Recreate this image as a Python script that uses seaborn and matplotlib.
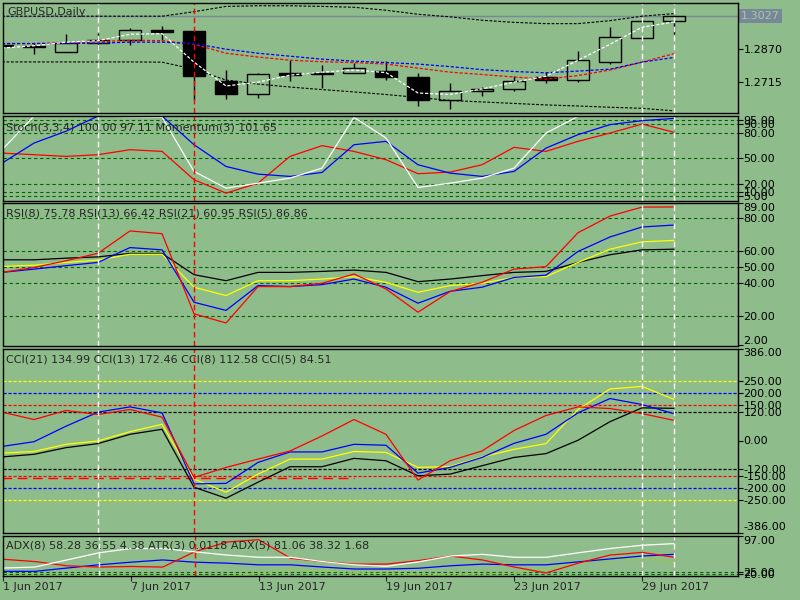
import numpy as np
import pandas as pd
import matplotlib
matplotlib.use("Agg")
import matplotlib.pyplot as plt
import seaborn as sns

# ---- data ----
dates = pd.to_datetime([
    "2017-06-01", "2017-06-02", "2017-06-05", "2017-06-06", "2017-06-07",
    "2017-06-08", "2017-06-09", "2017-06-12", "2017-06-13", "2017-06-14",
    "2017-06-15", "2017-06-16", "2017-06-19", "2017-06-20", "2017-06-21",
    "2017-06-22", "2017-06-23", "2017-06-26", "2017-06-27", "2017-06-28",
    "2017-06-29", "2017-06-30"])

open_ = [1.2892, 1.2879, 1.2858, 1.2900, 1.2913, 1.2959, 1.2955, 1.2721, 1.2662, 1.2760, 1.2759,
         1.2757, 1.2768, 1.2738, 1.2632, 1.2673, 1.2682, 1.2738, 1.2724, 1.2811, 1.2924, 1.3005]
high = [1.2899, 1.2900, 1.2943, 1.2949, 1.2971, 1.2979, 1.2960, 1.2773, 1.2760, 1.2819, 1.2796,
        1.2804, 1.2815, 1.2760, 1.2710, 1.2692, 1.2744, 1.2765, 1.2863, 1.2975, 1.3012, 1.3027]
low = [1.2876, 1.2846, 1.2858, 1.2870, 1.2890, 1.2908, 1.2632, 1.2638, 1.2640, 1.2722, 1.2690,
       1.2757, 1.2726, 1.2604, 1.2591, 1.2652, 1.2674, 1.2710, 1.2718, 1.2801, 1.2924, 1.2943]
close = [1.2884, 1.2888, 1.2902, 1.2913, 1.2960, 1.2952, 1.2746, 1.2662, 1.2754, 1.2751, 1.2752,
         1.2781, 1.2738, 1.2632, 1.2674, 1.2682, 1.2721, 1.2724, 1.2818, 1.2926, 1.3005, 1.3027]
last_price = 1.3027

ma_fast = [1.2876, 1.2887, 1.2904, 1.2911, 1.2941, 1.2944, 1.2810, 1.2698, 1.2716, 1.2749, 1.2763,
           1.2773, 1.2761, 1.2665, 1.2658, 1.2684, 1.2716, 1.2744, 1.2819, 1.2894, 1.2974, 1.2999]
ma_red = [1.2898, 1.2898, 1.2901, 1.2906, 1.2913, 1.2911, 1.2894, 1.2852, 1.2834, 1.2819, 1.2812,
          1.2808, 1.2801, 1.2782, 1.2763, 1.2752, 1.2740, 1.2730, 1.2747, 1.2773, 1.2810, 1.2850]
ma_blue = [1.2897, 1.2897, 1.2898, 1.2899, 1.2904, 1.2904, 1.2897, 1.2871, 1.2852, 1.2838, 1.2824,
           1.2815, 1.2808, 1.2801, 1.2789, 1.2775, 1.2766, 1.2760, 1.2768, 1.2777, 1.2810, 1.2832]
band_up = [1.3026, 1.3026, 1.3026, 1.3026, 1.3026, 1.3026, 1.3047, 1.3072, 1.3075, 1.3075, 1.3072,
           1.3068, 1.3054, 1.3035, 1.3023, 1.3007, 1.2997, 1.2991, 1.2991, 1.3005, 1.3026, 1.3038]
band_dn = [1.2811, 1.2811, 1.2811, 1.2811, 1.2811, 1.2810, 1.2777, 1.2726, 1.2707, 1.2693, 1.2681,
           1.2670, 1.2658, 1.2644, 1.2630, 1.2623, 1.2616, 1.2609, 1.2604, 1.2598, 1.2593, 1.2581]

stoch_main = [60, 100, 100, 100, 99, 98.5, 34.4, 14.6, 20.5, 26.5, 38.3,
              98.5, 73.9, 15.4, 20.5, 26.5, 38.3, 79.8, 99.6, 100, 100, 100]
stoch_signal = [44.2, 68, 82, 100, 100, 100, 66, 40.3, 31.2, 28.5, 33.2,
                66, 70, 42.3, 32.4, 28.5, 34.4, 62, 77.9, 89.8, 94.5, 97.1]
momentum = [56.1, 54.2, 52.2, 54.2, 60.1, 58.1, 24.6, 8.7, 20.5, 52.2, 64.9,
            58.1, 48.3, 31.7, 33.6, 42.3, 62.9, 58.1, 70, 79.8, 90.5, 80.7]
stoch_levels = [95, 90, 80, 50, 20, 10, 5]

rsi5 = [46.8, 49.8, 53.9, 58.5, 72.2, 70.5, 21.4, 15.8, 38.1, 38.1, 40.1,
        45.8, 36.6, 22.4, 35.0, 40.7, 48.8, 50.3, 71.1, 81.3, 86.8, 86.9]
rsi8 = [46.8, 48.8, 50.9, 52.9, 62.0, 60.6, 28.5, 23.5, 38.7, 38.1, 39.3,
        42.7, 37.7, 27.9, 35.2, 37.7, 43.7, 45.1, 59.6, 68.5, 74.6, 75.8]
rsi13 = [50.4, 51.2, 52.9, 54.3, 57.9, 57.9, 37.7, 32.6, 41.7, 41.7, 42.7,
         44.2, 40.7, 34.6, 38.7, 40.1, 43.7, 44.2, 52.9, 61.0, 65.5, 66.4]
rsi21 = [54.5, 54.5, 55.5, 56.3, 58.4, 58.4, 45.4, 41.7, 46.8, 46.8, 47.4,
         48.2, 46.8, 41.1, 42.7, 44.8, 46.8, 47.4, 52.9, 57.6, 60.6, 61.0]
rsi_levels = [80, 60, 50, 40, 20]

cci5 = [119, 88, 126, 109, 130, 98, -155, -113, -78, -44, 19,
        88, 26, -166, -85, -44, 42, 105, 141, 134, 113, 84.5]
cci8 = [-25, -5, 60, 119, 141, 116, -182, -180, -92, -48, -48,
        -16, -20, -137, -113, -71, -12, 26, 116, 176, 151, 112.6]
cci13 = [-53, -46, -16, -2, 37, 68, -162, -217, -141, -78, -78,
         -46, -50, -113, -109, -69, -37, -13, 130, 216, 227, 172.5]
cci21 = [-69, -58, -30, -13, 26, 47, -196, -242, -175, -110, -110,
         -75, -85, -148, -141, -106, -71, -55, 1, 79, 137, 135]
cci_levels = {250: "#FFFF00", 200: "#0000FF", 150: "#FF0000", 120: "black"}
cci_trend_level = -158
cci_trend_end = "2017-06-16"

adx_white = [32.7, 34.7, 48.7, 62.8, 71.3, 71.3, 64.8, 58.4, 54.0, 54.0, 45.5,
             39.1, 36.2, 44.9, 56.5, 59.8, 54.0, 54.0, 62.8, 71.3, 77.7, 81.0]
adx_red = [50.1, 45.5, 37.2, 34.7, 35.8, 34.7, 64.8, 84.1, 88.7, 52.0, 45.5,
           40.5, 40.5, 47.4, 56.5, 48.7, 34.7, 23.1, 42.4, 58.4, 63.6, 54.0]
adx_blue = [26.2, 26.2, 32.7, 39.1, 44.3, 48.7, 44.3, 42.4, 39.1, 39.1, 34.7,
            30.8, 30.8, 32.3, 37.2, 40.5, 39.1, 39.1, 44.9, 50.7, 56.5, 59.8]
atr = [17, 17, 17, 17, 17, 17, 17, 17, 22, 30, 27,
       24, 22, 20, 20, 21, 23, 31, 44, 48.7, 52, 45.5]
adx_levels = [25, 20]

white_marks = ["2017-06-06", "2017-06-29", "2017-06-30"]
red_mark = "2017-06-09"
tick_dates = ["2017-06-01", "2017-06-07", "2017-06-13", "2017-06-19", "2017-06-23", "2017-06-29"]

# ---- style ----
bg = "#8FBC8B"
sns.set_style("ticks", rc={"axes.facecolor": bg, "figure.facecolor": bg,
                           "axes.edgecolor": "black"})
plt.rcParams["font.family"] = ["DejaVu Sans"]
plt.rcParams["font.size"] = 8

bars = np.arange(len(dates))
pos = {d: i for i, d in enumerate(dates)}
fig = plt.figure(figsize=(8, 6), dpi=100)


def panel(top, bottom):
    ax = fig.add_axes([3 / 800, 1 - bottom / 600, 735 / 800, (bottom - top) / 600])
    ax.set_facecolor(bg)
    for s in ax.spines.values():
        s.set_color("black")
        s.set_linewidth(1)
        s.set_zorder(6)
    ax.set_xlim(0.03, 23.0)
    ax.yaxis.tick_right()
    ax.tick_params(axis="y", direction="out", length=3.5, width=0.8, pad=0.5,
                   labelsize=8, colors="black")
    ax.tick_params(axis="x", bottom=False, labelbottom=False)
    return ax


def line(ax, vals, color, ls="-", lw=0.9):
    sns.lineplot(x=bars, y=vals, ax=ax, color=color, linestyle=ls, linewidth=lw,
                 sort=False, zorder=4)
    ax.set_xlabel("")
    ax.set_ylabel("")


def set_ticks(ax, vals, top=None, bottom=None):
    ticks = list(vals)
    if top is not None:
        ticks = [top] + ticks
    if bottom is not None:
        ticks = ticks + [bottom]
    ax.set_yticks(ticks)
    ax.set_yticklabels([f"{t:.2f}" for t in ticks])
    labels = ax.get_yticklabels()
    if top is not None:
        labels[0].set_va("top")
    if bottom is not None:
        labels[-1].set_va("bottom")


dash = (0, (2.5, 1.5))
lvl = dict(color="#006400", linestyle=(0, (3, 2.5)), linewidth=0.8, zorder=1)

# ---- price panel ----
ax1 = panel(3, 113)
ax1.set_ylim(1.2571, 1.3088)
o, c = np.array(open_), np.array(close)
up = c >= o
body_lo = np.minimum(o, c)
body_h = np.maximum(np.abs(c - o), 0.0003)
ax1.axhline(last_price, color="#778899", lw=1, zorder=1)
ax1.vlines(bars, low, high, color="black", lw=1, zorder=2)
ax1.bar(bars, body_h, bottom=body_lo, width=0.7, color=np.where(up, bg, "black"),
        edgecolor="black", linewidth=1, zorder=3)
line(ax1, band_up, "black", dash, 0.8)
line(ax1, band_dn, "black", dash, 0.8)
line(ax1, ma_red, "red", dash, 0.9)
line(ax1, ma_blue, "blue", dash, 0.9)
line(ax1, ma_fast, "white", dash, 0.9)
ax1.set_yticks([1.2870, 1.2715])
ax1.set_yticklabels(["1.2870", "1.2715"])
ax1.text(1.004, last_price, f"{last_price:.4f}", transform=ax1.get_yaxis_transform(),
         ha="left", va="center", fontsize=8, color="#A8C8A4",
         bbox=dict(boxstyle="square,pad=0.2", fc="#778899", ec="none"))

# ---- stochastic / momentum ----
ax2 = panel(116, 200.5)
ax2.set_ylim(0, 100)
for v in stoch_levels:
    ax2.axhline(v, **lvl)
line(ax2, momentum, "red")
line(ax2, stoch_signal, "blue")
line(ax2, stoch_main, "white")
set_ticks(ax2, stoch_levels)

# ---- RSI ----
ax3 = panel(203.5, 345.5)
ax3.set_ylim(2, 89)
for v in rsi_levels:
    ax3.axhline(v, **lvl)
line(ax3, rsi21, "black")
line(ax3, rsi13, "yellow")
line(ax3, rsi8, "blue")
line(ax3, rsi5, "red")
set_ticks(ax3, rsi_levels, top=89, bottom=2)

# ---- CCI ----
ax4 = panel(348.5, 532.5)
ax4.set_ylim(-386, 386)
for v, col in cci_levels.items():
    ax4.axhline(v, color=col, linestyle=dash, lw=0.9, zorder=1)
    ax4.axhline(-v, color=col, linestyle=dash, lw=0.9, zorder=1)
ax4.hlines(cci_trend_level, 0, pos[pd.Timestamp(cci_trend_end)], color="red",
           linestyle=(0, (7, 4)), lw=1, zorder=1)
line(ax4, cci21, "black")
line(ax4, cci13, "yellow")
line(ax4, cci8, "blue")
line(ax4, cci5, "red")
set_ticks(ax4, [250, 200, 150, 120, 0, -120, -150, -200, -250], top=386, bottom=-386)

# ---- ADX / ATR ----
ax5 = panel(535.5, 575.5)
ax5.set_ylim(18, 97)
for v in adx_levels:
    ax5.axhline(v, **lvl)
line(ax5, atr, "#9ACD32", dash, 0.9)
line(ax5, adx_blue, "blue")
line(ax5, adx_red, "red")
line(ax5, adx_white, "white")
set_ticks(ax5, adx_levels, top=97)

# vertical markers through all panels
axes = [ax1, ax2, ax3, ax4, ax5]
for ax in axes:
    for d in white_marks:
        ax.axvline(pos[pd.Timestamp(d)], color="white", linestyle=(0, (4, 2.5)), lw=1, zorder=5)
    ax.axvline(pos[pd.Timestamp(red_mark)], color="red", linestyle=(0, (4, 2.5)), lw=1, zorder=5)

# date axis
tick_idx = [pos[pd.Timestamp(d)] for d in tick_dates]
ax5.tick_params(axis="x", bottom=True, labelbottom=True, direction="out", length=3.5,
                width=0.8, pad=1.5, labelsize=8)
ax5.set_xticks(tick_idx)
ax5.set_xticklabels([f"{pd.Timestamp(d).day} {pd.Timestamp(d):%b %Y}" for d in tick_dates])
for lab in ax5.get_xticklabels():
    lab.set_ha("left")

# indicator captions
fig.text(7 / 800, 1 - 12 / 600, "GBPUSD,Daily", fontsize=8, va="center")
fig.text(6 / 800, 1 - 127.5 / 600, "Stoch(3,3,4) 100.00 97.11 Momentum(3) 101.65", fontsize=8, va="center")
fig.text(6 / 800, 1 - 214 / 600, "RSI(8) 75.78 RSI(13) 66.42 RSI(21) 60.95 RSI(5) 86.86", fontsize=8, va="center")
fig.text(6 / 800, 1 - 359.5 / 600, "CCI(21) 134.99 CCI(13) 172.46 CCI(8) 112.58 CCI(5) 84.51", fontsize=8, va="center")
fig.text(6 / 800, 1 - 546 / 600, "ADX(8) 58.28 36.55 4.38 ATR(3) 0.0118 ADX(5) 81.06 38.32 1.68", fontsize=8, va="center")

fig.savefig("out.png", dpi=100, facecolor=bg)
